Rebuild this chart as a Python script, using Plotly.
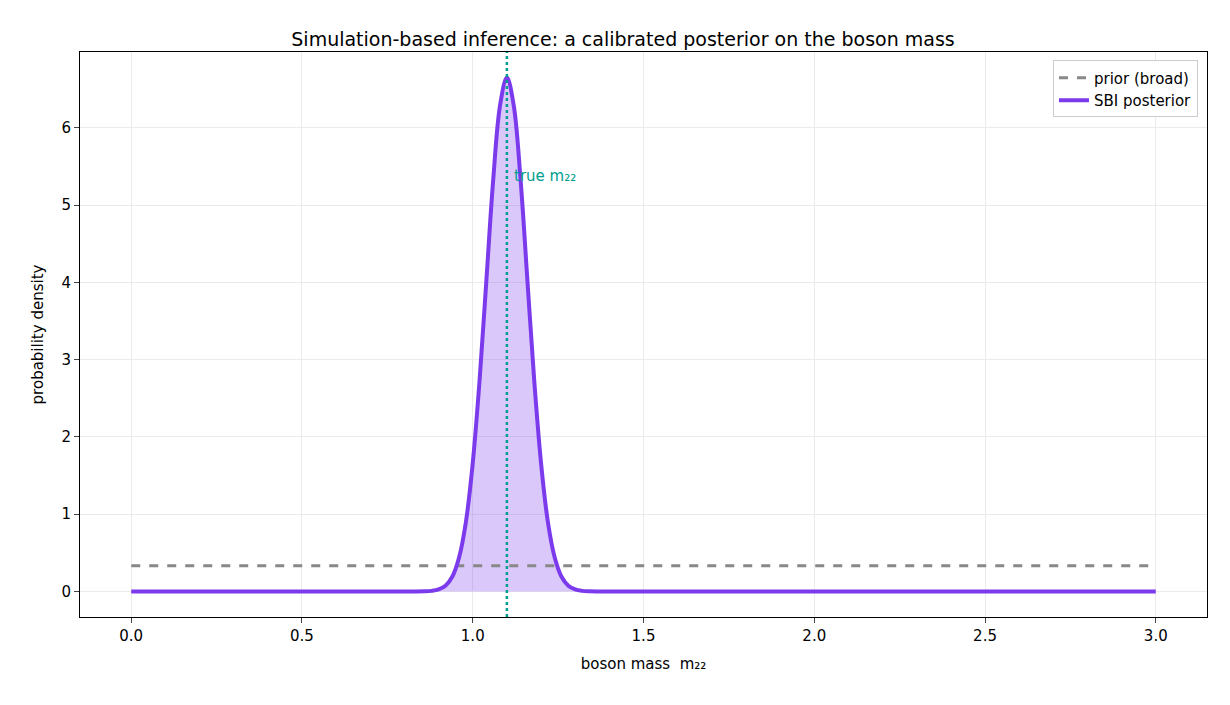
import plotly.graph_objects as go

mass = [0.0, 0.70, 0.86, 0.88, 0.90, 0.92, 0.94, 0.96, 0.98, 1.00, 1.02, 1.04, 1.06, 1.08, 1.10,
        1.12, 1.14, 1.16, 1.18, 1.20, 1.22, 1.24, 1.26, 1.28, 1.30, 1.32, 1.34, 1.50, 3.0]
posterior = [0.0, 0.0, 0.002, 0.008, 0.026, 0.074, 0.19, 0.44, 0.90, 1.66, 2.73, 4.03, 5.33, 6.29, 6.65,
             6.29, 5.33, 4.03, 2.73, 1.66, 0.90, 0.44, 0.19, 0.074, 0.026, 0.008, 0.002, 0.0, 0.0]
prior_x = [0.0, 3.0]
prior_y = [0.333, 0.333]
true_mass = 1.1
x_ticks = [0.0, 0.5, 1.0, 1.5, 2.0, 2.5, 3.0]
y_ticks = [0, 1, 2, 3, 4, 5, 6]

fig = go.Figure()
fig.add_trace(go.Scatter(x=mass, y=posterior, mode="lines", line=dict(width=0, shape="spline"),
                         fill="tozeroy", fillcolor="rgba(124,58,237,0.28)", showlegend=False, hoverinfo="skip"))
fig.add_trace(go.Scatter(x=prior_x, y=prior_y, mode="lines", name="prior (broad)",
                         line=dict(color="#888888", width=3, dash="dash")))
fig.add_trace(go.Scatter(x=mass, y=posterior, mode="lines", name="SBI posterior",
                         line=dict(color="#7c3aed", width=4, shape="spline")))
fig.add_shape(type="line", x0=true_mass, x1=true_mass, y0=0, y1=1, yref="paper",
              line=dict(color="#009e8e", width=2.5, dash="dot"))
fig.add_annotation(x=true_mass + 0.015, y=5.37, text="true m₂₂", showarrow=False, xanchor="left",
                   font=dict(color="#009e8e", size=15))

ax = dict(showline=True, mirror=True, linecolor="black", linewidth=1, ticks="outside",
          ticklen=5, showgrid=True, gridcolor="#ebebeb", zeroline=False,
          tickfont=dict(size=15, color="black"), title_font=dict(size=15, color="black"))
fig.update_layout(
    width=1230, height=705, plot_bgcolor="white", paper_bgcolor="white",
    font=dict(family="DejaVu Sans", color="black"),
    margin=dict(l=72, r=31, t=44, b=96),
    title=dict(text="Simulation-based inference: a calibrated posterior on the boson mass",
               x=0.5, xanchor="center", y=0.965, font=dict(size=19)),
    xaxis=dict(ax, range=[-0.15, 3.15], tickvals=x_ticks, ticktext=[f"{v:.1f}" for v in x_ticks],
               title=dict(text="boson mass  m₂₂", standoff=14)),
    yaxis=dict(ax, range=[-0.33, 6.98], tickvals=y_ticks, title=dict(text="probability density", standoff=14)),
    legend=dict(x=0.992, y=0.985, xanchor="right", yanchor="top", bgcolor="white",
                bordercolor="#cccccc", borderwidth=1, font=dict(size=15)),
)
fig.write_html("out.html")
